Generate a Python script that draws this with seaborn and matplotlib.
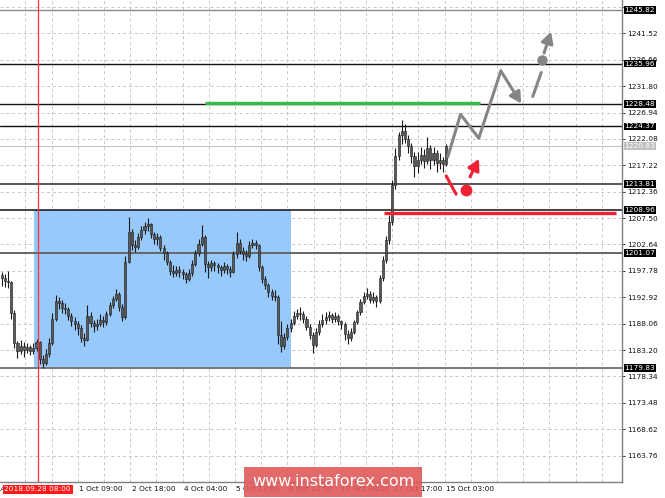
import matplotlib
matplotlib.use("Agg")
import matplotlib.pyplot as plt
import matplotlib.transforms as mtransforms
from matplotlib.patches import Rectangle
import numpy as np
import pandas as pd
import seaborn as sns

# 2-hour candles, gold, 27 Sep - 15 Oct 2018
first_open = 1197.0
closes = [
    1196.5, 1196.0, 1195.8, 1190.0, 1184.5, 1183.0, 1184.0, 1183.2, 1183.8, 1183.0,
    1183.5, 1184.6, 1181.5, 1180.8, 1182.5, 1184.5, 1189.0, 1192.3, 1191.8, 1191.0,
    1190.8, 1189.5, 1188.6, 1188.0, 1187.2, 1185.5, 1185.0, 1189.5, 1188.2, 1187.6,
    1188.0, 1188.8, 1188.3, 1189.8, 1191.5, 1192.6, 1193.6, 1191.2, 1189.3, 1199.5,
    1205.0, 1202.5, 1202.2, 1204.0, 1205.3, 1206.0, 1206.4, 1204.5, 1203.6, 1204.0,
    1202.0, 1201.0, 1199.5, 1197.8, 1197.4, 1198.0, 1197.5, 1197.2, 1196.2, 1197.4,
    1199.0, 1201.0, 1202.8, 1204.0, 1199.0, 1198.4, 1199.2, 1198.8, 1198.4, 1198.0,
    1198.6, 1198.2, 1197.6, 1200.8, 1203.0, 1201.5, 1200.8, 1200.5, 1202.5, 1203.0,
    1202.6, 1198.5, 1196.2, 1195.2, 1193.8, 1193.2, 1193.0, 1186.0, 1184.0, 1185.6,
    1187.2, 1188.2, 1189.5, 1190.0, 1189.8, 1189.0, 1187.5, 1186.0, 1184.2, 1186.5,
    1188.0, 1188.8, 1189.2, 1189.6, 1189.0, 1189.4, 1188.6, 1188.0, 1186.2, 1185.4,
    1186.5, 1188.4, 1190.2, 1192.0, 1193.2, 1193.6, 1192.4, 1193.0, 1192.2, 1196.5,
    1199.8, 1203.5, 1206.8, 1213.5, 1219.0, 1222.8, 1223.5, 1222.0, 1220.8, 1219.0,
    1217.0, 1218.2, 1219.2, 1218.0, 1220.4, 1218.2, 1219.4, 1217.6, 1218.2, 1217.4,
    1220.8,
]
highs = [
    1197.6, 1197.2, 1197.8, 1196.0, 1190.5, 1184.8, 1185.0, 1184.6, 1184.5, 1184.2,
    1184.5, 1185.2, 1184.8, 1182.2, 1183.4, 1185.4, 1190.0, 1193.3, 1193.0, 1192.4,
    1191.8, 1191.2, 1190.0, 1189.2, 1188.6, 1187.8, 1186.4, 1191.5, 1190.2, 1188.8,
    1189.0, 1189.8, 1189.4, 1190.4, 1192.0, 1193.2, 1194.5, 1193.8, 1191.6, 1200.6,
    1207.7, 1205.4, 1203.4, 1204.8, 1206.0, 1206.8, 1207.5, 1206.6, 1205.0, 1204.8,
    1204.4, 1202.6, 1201.4, 1199.8, 1198.8, 1198.6, 1198.6, 1198.2, 1197.6, 1198.2,
    1199.8, 1201.6, 1203.6, 1206.2, 1204.4, 1199.6, 1199.8, 1199.6, 1199.2, 1198.8,
    1199.4, 1199.0, 1198.6, 1201.4, 1204.9, 1203.6, 1202.2, 1201.6, 1203.2, 1203.6,
    1203.5, 1202.8, 1198.8, 1196.8, 1195.6, 1194.4, 1194.2, 1193.4, 1188.6, 1186.4,
    1188.0, 1189.0, 1190.4, 1190.8, 1191.1, 1190.4, 1189.4, 1188.0, 1186.6, 1187.2,
    1188.8, 1189.8, 1190.2, 1190.4, 1190.0, 1190.2, 1189.8, 1188.8, 1188.4, 1186.8,
    1187.2, 1188.8, 1190.6, 1192.6, 1193.8, 1194.6, 1194.0, 1193.8, 1193.4, 1197.0,
    1200.6, 1204.2, 1208.0, 1214.6, 1220.4, 1223.4, 1225.5, 1224.8, 1222.8, 1221.4,
    1219.6, 1219.6, 1220.6, 1220.2, 1222.4, 1221.0, 1220.6, 1220.0, 1219.4, 1218.8,
    1221.2,
]
lows = [
    1195.0, 1194.8, 1194.6, 1189.0, 1183.5, 1181.8, 1182.4, 1182.0, 1182.6, 1182.2,
    1182.4, 1183.0, 1180.6, 1179.9, 1180.4, 1182.0, 1184.2, 1188.6, 1190.8, 1190.0,
    1189.8, 1188.8, 1187.6, 1186.8, 1186.0, 1184.6, 1184.0, 1184.8, 1187.4, 1186.6,
    1186.8, 1187.6, 1187.4, 1187.8, 1189.4, 1191.0, 1192.2, 1190.4, 1188.5, 1189.0,
    1199.2, 1201.6, 1201.2, 1201.8, 1203.4, 1204.6, 1205.2, 1203.8, 1202.8, 1202.6,
    1201.4, 1199.8, 1198.8, 1197.0, 1196.6, 1196.8, 1196.6, 1196.2, 1195.5, 1196.0,
    1196.8, 1198.6, 1200.6, 1202.4, 1197.6, 1196.5, 1197.8, 1197.8, 1197.4, 1196.8,
    1197.4, 1197.2, 1196.6, 1197.4, 1200.2, 1200.8, 1199.8, 1199.6, 1200.2, 1202.0,
    1201.8, 1197.8, 1195.6, 1194.4, 1193.0, 1192.4, 1192.2, 1184.4, 1182.8, 1183.4,
    1185.0, 1186.6, 1187.8, 1189.0, 1188.8, 1188.2, 1186.8, 1185.2, 1182.6, 1183.8,
    1186.0, 1187.4, 1188.0, 1188.6, 1188.2, 1188.4, 1187.8, 1187.0, 1185.0, 1184.4,
    1184.8, 1186.2, 1188.0, 1189.6, 1191.6, 1192.6, 1191.8, 1191.8, 1191.2, 1191.8,
    1196.0, 1199.2, 1202.8, 1206.2, 1212.8, 1218.2, 1221.2, 1221.4, 1219.4, 1217.6,
    1215.0, 1215.8, 1217.4, 1216.8, 1217.4, 1216.6, 1217.2, 1216.0, 1216.6, 1216.0,
    1217.0,
]

# key levels drawn on the chart
levels = [1245.82, 1235.96, 1228.48, 1224.37, 1213.81, 1208.96, 1201.07, 1179.83]
level_colors = ["#8a8a8a", "#111111", "#111111", "#111111", "#555555", "#111111", "#666666", "#777777"]
level_widths = [1.0, 1.0, 1.0, 1.0, 1.4, 1.1, 1.4, 1.4]
last_price = 1220.83

y_ticks = [1163.76, 1168.62, 1173.48, 1178.34, 1183.20, 1188.06, 1192.92, 1197.78,
           1202.64, 1207.50, 1212.36, 1217.22, 1222.08, 1226.94, 1231.80, 1236.66,
           1241.52, 1246.38]

# time axis, in hourly bars from the left edge
x_tick_bars = [16, 49, 82, 115, 148, 181, 214, 247, 280]
x_tick_labels = ["", "1 Oct 09:00", "2 Oct 18:00", "4 Oct 04:00", "5 Oct 13:00",
                 "8 Oct 22:00", "10 Oct 08:00", "11 Oct 17:00", "15 Oct 03:00"]
marker_bar = 24
marker_label = "2018.09.28 08:00"

# range box and drawn lines (bar, price)
range_box = (21.5, 183.5, 1179.83, 1208.96)
green_line = (129, 302, 1228.7)
red_line = (242, 388, 1208.5)
gray_path_x = [282, 290, 301.5, 315.4]
gray_path_y = [1218.8, 1226.6, 1222.2, 1234.6]
gray_arrow1 = ((315.4, 1234.6), (328.2, 1228.6))
gray_dash = ((335.5, 1229.9), (340.8, 1234.3))
gray_dot = (341.6, 1236.7)
gray_arrow2 = ((342.6, 1237.9), (347.0, 1241.8))
red_seg = ((281, 1215.25), (287.2, 1211.9))
red_dot = (293.5, 1212.7)
red_arrow = ((296, 1215.1), (301.6, 1218.4))

sns.set_theme(style="white")
plt.rcParams["font.family"] = ["DejaVu Sans"]

fig = plt.figure(figsize=(6.65, 4.98), dpi=100)
ax = fig.add_axes([0, 0.0327, 0.9349, 0.9673])
ax.set_xlim(0, 391.5)
ax.set_ylim(1158.95, 1247.66)

# grid
for yv in y_ticks:
    ax.axhline(yv, color="#c8c8c8", lw=0.7, ls=(0, (3, 3)), zorder=0)
for xv in np.arange(16, 392, 16.5):
    ax.axvline(xv, color="#c8c8c8", lw=0.7, ls=(0, (3, 3)), zorder=0)

# range box
x0, x1, y0, y1 = range_box
ax.add_patch(Rectangle((x0, y0), x1 - x0, y1 - y0, facecolor="#97c9fb", edgecolor="none", zorder=0.5))

# levels
for lv, c, w in zip(levels, level_colors, level_widths):
    ax.axhline(lv, color=c, lw=w, zorder=1)
ax.axhline(last_price, color="#c4c4c4", lw=0.8, zorder=1)

# candles
df = pd.DataFrame({"close": closes, "high": highs, "low": lows})
df["open"] = [first_open] + closes[:-1]
df["x"] = np.arange(len(df)) * 2 + 1
df["high"] = df[["high", "open", "close"]].max(axis=1)
df["low"] = df[["low", "open", "close"]].min(axis=1)
ax.vlines(df["x"], df["low"], df["high"], color="#1a1a1a", lw=0.8, zorder=2)
body_lo = df[["open", "close"]].min(axis=1)
body_h = (df["close"] - df["open"]).abs().clip(lower=0.15)
ax.bar(df["x"], body_h, bottom=body_lo, width=1.3, color="#5a5a5a",
       edgecolor="#1a1a1a", linewidth=0.4, zorder=2.1)

# marker vertical
ax.axvline(marker_bar, color="#ff3030", lw=0.9, zorder=2.2)

# drawn objects
ax.hlines(green_line[2], green_line[0], green_line[1], color="#36b84a", lw=2.4, zorder=3)
ax.hlines(red_line[2], red_line[0], red_line[1], color="#ee2233", lw=2.4, zorder=3)

path = pd.DataFrame({"bar": gray_path_x, "price": gray_path_y})
sns.lineplot(data=path, x="bar", y="price", ax=ax, color="#858585", lw=2.2,
             sort=False, zorder=3, legend=False)
ax.set_xlabel("")
ax.set_ylabel("")
arrow_kw = dict(arrowstyle="-|>,head_length=0.55,head_width=0.3", lw=2.2, mutation_scale=12,
                shrinkA=0, shrinkB=0)
ax.annotate("", xy=gray_arrow1[1], xytext=gray_arrow1[0],
            arrowprops=dict(color="#858585", **arrow_kw), zorder=3)
ax.plot([gray_dash[0][0], gray_dash[1][0]], [gray_dash[0][1], gray_dash[1][1]],
        color="#858585", lw=2.2, zorder=3)
ax.plot(*gray_dot, "o", color="#858585", ms=6.5, zorder=3)
ax.annotate("", xy=gray_arrow2[1], xytext=gray_arrow2[0],
            arrowprops=dict(color="#858585", **arrow_kw), zorder=3)

ax.plot([red_seg[0][0], red_seg[1][0]], [red_seg[0][1], red_seg[1][1]],
        color="#ee2233", lw=2.2, zorder=3)
ax.plot(*red_dot, "o", color="#ee2233", ms=7.5, zorder=3)
ax.annotate("", xy=red_arrow[1], xytext=red_arrow[0],
            arrowprops=dict(color="#ee2233", **arrow_kw), zorder=3)

# axes frame and ticks
for side in ["left", "top"]:
    ax.spines[side].set_visible(False)
for side in ["right", "bottom"]:
    ax.spines[side].set_color("#808080")
    ax.spines[side].set_linewidth(1.0)
ax.yaxis.tick_right()
ax.set_yticks(y_ticks)
ax.set_yticklabels([f"{v:.2f}" if v < 1246 else "" for v in y_ticks])
ax.tick_params(axis="y", direction="out", length=2.5, width=0.7, color="#333333",
               pad=1.2, labelsize=5.3, labelcolor="#111111")
ax.set_xticks(x_tick_bars)
ax.set_xticklabels([])
ax.tick_params(axis="x", direction="out", length=3, width=0.7, color="#333333")

ytrans = mtransforms.blended_transform_factory(ax.transAxes, ax.transData)
for lv in levels:
    ax.text(1.0045, lv, f"{lv:.2f}", transform=ytrans, ha="left", va="center",
            fontsize=5.3, color="white", clip_on=False, zorder=5,
            bbox=dict(boxstyle="square,pad=0.12", facecolor="black", edgecolor="none"))
ax.text(1.0045, last_price, f"{last_price:.2f}", transform=ytrans, ha="left", va="center",
        fontsize=5.3, color="white", clip_on=False, zorder=5,
        bbox=dict(boxstyle="square,pad=0.12", facecolor="#c0c0c0", edgecolor="none"))

xtrans = mtransforms.blended_transform_factory(ax.transData, ax.transAxes)
for xb, lab in zip(x_tick_bars, x_tick_labels):
    if lab:
        ax.text(xb + 0.9, -0.016, lab, transform=xtrans, ha="left", va="center",
                fontsize=5.3, color="#111111", clip_on=False)
ax.text(3.6, -0.016, "14", transform=xtrans, ha="right", va="center",
        fontsize=5.3, color="#111111", clip_on=False)
ax.text(marker_bar - 0.3, -0.016, marker_label, transform=xtrans, ha="center", va="center",
        fontsize=5.3, color="white", clip_on=False, zorder=5,
        bbox=dict(boxstyle="square,pad=0.22", facecolor="#ff1a1a", edgecolor="none"))

# watermark
fig.patches.append(Rectangle((0.367, 0.002), 0.2677, 0.061, transform=fig.transFigure,
                             facecolor="#e05a5a", alpha=0.9, edgecolor="none", zorder=10))
fig.text(0.5008, 0.0335, "www.instaforex.com", ha="center", va="center", fontsize=11.5,
         color="white", zorder=11)

fig.savefig("out.png", dpi=100)
